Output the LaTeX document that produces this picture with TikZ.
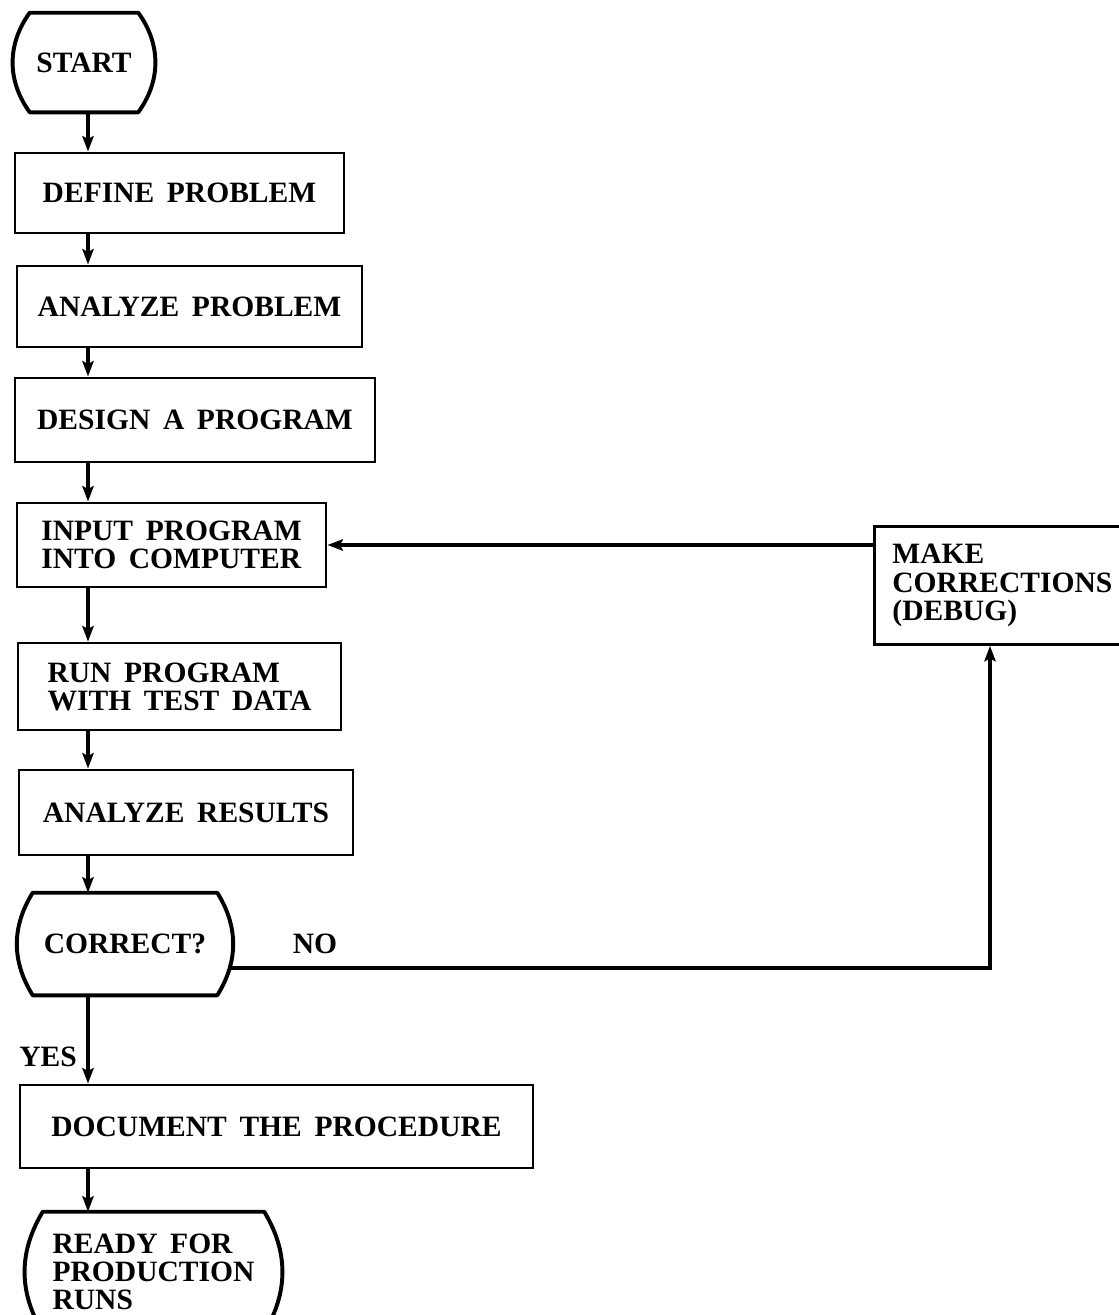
\documentclass[tikz,border=0pt]{standalone}
\usepackage{fontspec}
\setmainfont{Liberation Serif}
\usepackage{tikz}
\usetikzlibrary{arrows.meta, positioning, calc}

\newcommand{\pxu}{0.025cm}
\newcommand{\flowfont}{\fontsize{21pt}{20pt}\selectfont\bfseries\spaceskip=9pt\relax}
\tikzset{
  box/.style={draw, line width=2pt, inner sep=0pt, align=left, font=\flowfont},
  termnode/.style={inner sep=0pt, align=left, font=\flowfont},
  boxsize/.style 2 args={minimum width=#1*\pxu, minimum height=#2*\pxu},
  term/.style={line width=2.8pt, line join=round},
  arr/.style={line width=2.4pt, -{Stealth[length=11pt,width=8pt,inset=2pt]}},
  lbl/.style={font=\flowfont},
}

\begin{document}
\begin{tikzpicture}[x=\pxu, y=-\pxu]
  \useasboundingbox (0,0) rectangle (1118,1315);
  \coordinate (col) at (88,0);

  % Start
  \node[termnode, boxsize={142}{99}] (start) at (84,62.5) {START};
  \draw[term] ($(start.north west)+(17,0)$) -- ($(start.north east)+(-17,0)$)
    to[bend left=36] ($(start.south east)+(-17,0)$) -- ($(start.south west)+(17,0)$)
    to[bend left=36] ($(start.north west)+(17,0)$) -- cycle;

  % Steps
  \node[box, boxsize={329}{80}] (define) at (179.5,193) {DEFINE PROBLEM};
  \node[box, boxsize={345}{81}] (anaprob) at (189.5,306.5) {ANALYZE PROBLEM};
  \node[box, boxsize={360}{84}] (design) at (195,420) {DESIGN A PROGRAM};
  \node[box, boxsize={309}{84}] (input) at (171.5,545) {INPUT PROGRAM\\INTO COMPUTER};
  \node[box, boxsize={323}{87}] (run) at (179.5,686.5) {RUN PROGRAM\\WITH TEST DATA};
  \node[box, boxsize={334}{85}] (anares) at (186,812.5) {ANALYZE RESULTS};

  % Decision
  \node[termnode, boxsize={216}{102}] (correct) at (125,944) {CORRECT?};
  \draw[term] ($(correct.north west)+(16,0)$) -- ($(correct.north east)+(-16,0)$)
    to[bend left=32] ($(correct.south east)+(-16,0)$) -- ($(correct.south west)+(16,0)$)
    to[bend left=32] ($(correct.north west)+(16,0)$) -- cycle;

  \node[box, boxsize={513}{83}] (document) at (276.5,1126.5) {DOCUMENT THE PROCEDURE};

  % End
  \node[termnode, boxsize={257}{120}] (ready) at (153.5,1272) {READY FOR\\PRODUCTION\\RUNS};
  \draw[term] ($(ready.north west)+(18,0)$) -- ($(ready.north east)+(-18,0)$)
    to[bend left=31] ($(ready.south east)+(-18,0)$) -- ($(ready.south west)+(18,0)$)
    to[bend left=31] ($(ready.north west)+(18,0)$) -- cycle;

  % Debug loop
  \node[box, anchor=north west, text width=5.5cm, inner xsep=0.45cm, minimum height=118*\pxu]
    (debug) at (873,525) {MAKE\\CORRECTIONS\\(DEBUG)};
  \coordinate (turn) at (990,968);

  % Arrows
  \draw[arr] (start.south -| col) -- (define.north -| col);
  \draw[arr] (define.south -| col) -- (anaprob.north -| col);
  \draw[arr] (anaprob.south -| col) -- (design.north -| col);
  \draw[arr] (design.south -| col) -- (input.north -| col);
  \draw[arr] (input.south -| col) -- (run.north -| col);
  \draw[arr] (run.south -| col) -- (anares.north -| col);
  \draw[arr] (anares.south -| col) -- (correct.north -| col);
  \draw[arr] (correct.south -| col) -- (document.north -| col);
  \draw[arr] (document.south -| col) -- (ready.north -| col);
  \draw[arr, line width=2.8pt] ($(correct.east)+(-4,24)$) -- (turn) -- (turn |- debug.south);
  \draw[arr] (debug.west |- input.east) -- (input.east);

  \node[lbl] (no) at (315,944) {NO};
  \node[lbl] (yes) at (48,1057) {YES};
\end{tikzpicture}
\end{document}
